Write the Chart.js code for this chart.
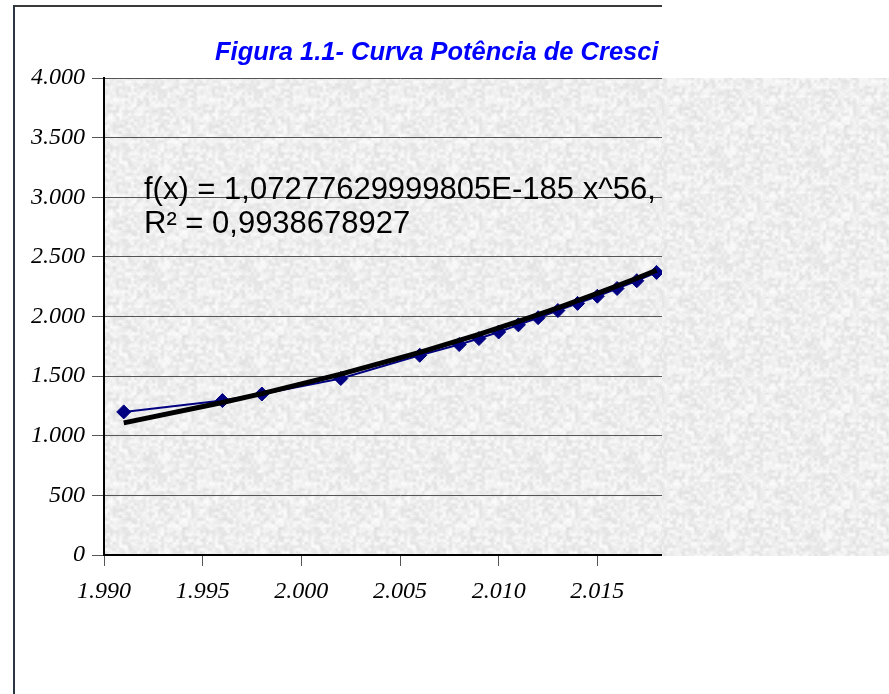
<!DOCTYPE html>
<html>
<head>
<meta charset="utf-8">
<title>Figura 1.1</title>
<script src="https://cdn.jsdelivr.net/npm/chart.js@4.4.1/dist/chart.umd.min.js"></script>
<style>
  html, body { margin: 0; padding: 0; background: #fff; }
  body { width: 889px; height: 694px; position: relative; overflow: hidden; }
  #quadro { position: absolute; left: 0; top: 0; width: 662px; height: 694px; overflow: hidden; }
  #borda { position: absolute; left: 13px; top: 5px; width: 760px; height: 760px;
           border-left: 2px solid #2b3441; border-top: 2px solid #3a3a3a; }
  #lateral { position: absolute; left: 662px; top: 78px; width: 227px; height: 478px; background: #ebebeb; }
  #grafico { position: absolute; left: 0; top: 0; }
</style>
</head>
<body>
<div id="quadro">
  <div id="borda"></div>
  <canvas id="grafico" width="720" height="694"></canvas>
</div>
<div id="lateral"></div>
<script>
// Dados
const anos = [1991, 1996, 1998, 2002, 2006, 2008, 2009, 2010, 2011, 2012, 2013, 2014, 2015, 2016, 2017, 2018];
const demanda = [1200, 1295, 1350, 1480, 1675, 1765, 1815, 1870, 1930, 1990, 2050, 2110, 2170, 2235, 2300, 2370];
const eixoX = [1990, 1995, 2000, 2005, 2010, 2015, 2020];
const eixoY = [0, 500, 1000, 1500, 2000, 2500, 3000, 3500, 4000];

// Coeficientes da tendência potência (a lido da equação, b estimado pela curva)
const coefA = 1.07277629999805e-185;
const coefB = 56.99;

const titulo = 'Figura 1.1- Curva Potência de Cresci';
const equacao = 'f(x) = 1,07277629999805E-185 x^56,';
const rQuadrado = 'R² = 0,9938678927';

// Separador de milhar com ponto
function milhar(v) {
  return String(v).replace(/\B(?=(\d{3})+(?!\d))/g, '.');
}

function tendencia(x) {
  return Math.exp(Math.log(coefA) + coefB * Math.log(x));
}

// Textura cinza do fundo (ruído determinístico)
function criarTextura() {
  const t = 96, cel = 3, nc = t / cel;
  const c = document.createElement('canvas');
  c.width = c.height = t;
  const g = c.getContext('2d');
  const img = g.createImageData(t, t);
  const h = (x, y) => {
    const n = Math.sin((x % nc) * 127.1 + (y % nc) * 311.7) * 43758.5453;
    return n - Math.floor(n);
  };
  for (let y = 0; y < t; y++) {
    for (let x = 0; x < t; x++) {
      const cx = Math.floor(x / cel), cy = Math.floor(y / cel);
      const fx = (x % cel) / cel, fy = (y % cel) / cel;
      const a = h(cx, cy), b = h(cx + 1, cy), c2 = h(cx, cy + 1), d = h(cx + 1, cy + 1);
      const v = (a * (1 - fx) + b * fx) * (1 - fy) + (c2 * (1 - fx) + d * fx) * fy;
      const fino = h(x * 7 + 3, y * 5 + 1);
      const cinza = Math.round(221 + 28 * v + 6 * fino);
      const k = (y * t + x) * 4;
      img.data[k] = img.data[k + 1] = img.data[k + 2] = Math.min(cinza, 253);
      img.data[k + 3] = 255;
    }
  }
  g.putImageData(img, 0, 0);
  return c;
}
const textura = criarTextura();
document.getElementById('lateral').style.background = 'url(' + textura.toDataURL() + ')';

const fundoPlugin = {
  id: 'fundo',
  beforeDraw(chart) {
    const { ctx, chartArea: a } = chart;
    ctx.save();
    ctx.fillStyle = ctx.createPattern(textura, 'repeat');
    ctx.fillRect(a.left, a.top, a.right - a.left, a.bottom - a.top);
    ctx.restore();
  }
};

const textosPlugin = {
  id: 'textos',
  afterDatasetsDraw(chart) {
    const ctx = chart.ctx;
    ctx.save();
    ctx.textBaseline = 'alphabetic';
    ctx.textAlign = 'left';
    ctx.fillStyle = '#0000ff';
    ctx.font = 'italic bold 25.5px "Liberation Sans", Arial, sans-serif';
    ctx.fillText(titulo, 215, 60);
    ctx.fillStyle = '#000';
    ctx.font = '31px "Liberation Sans", Arial, sans-serif';
    ctx.fillText(equacao, 144, 199);
    ctx.fillText(rQuadrado, 144, 233);
    ctx.restore();
  }
};

const fonteEixo = { family: '"Liberation Serif", "Times New Roman", serif', style: 'italic', size: 24 };

new Chart(document.getElementById('grafico'), {
  type: 'scatter',
  data: {
    datasets: [{
      label: 'Tendência',
      data: anos.map(x => ({ x: x, y: tendencia(x) })),
      showLine: true,
      borderColor: '#000',
      borderWidth: 5,
      pointRadius: 0,
      order: 0
    }, {
      label: 'Demanda',
      data: anos.map((x, i) => ({ x: x, y: demanda[i] })),
      showLine: true,
      borderColor: '#000080',
      backgroundColor: '#000080',
      borderWidth: 2,
      pointStyle: 'rectRot',
      pointRadius: 7,
      pointBorderWidth: 1,
      order: 1
    }]
  },
  options: {
    responsive: false,
    animation: false,
    layout: { padding: { top: 78, right: 24, left: 0, bottom: 0 } },
    plugins: {
      legend: { display: false },
      tooltip: { enabled: false }
    },
    scales: {
      x: {
        type: 'linear',
        min: eixoX[0],
        max: eixoX[eixoX.length - 1],
        afterBuildTicks: s => { s.ticks = eixoX.map(v => ({ value: v })); },
        afterFit: s => { s.height = 139; s.paddingLeft = 0; s.paddingRight = 0; },
        grid: { drawOnChartArea: false, tickLength: 11, color: '#555', lineWidth: 1 },
        border: { color: '#000', width: 2 },
        ticks: { color: '#000', font: fonteEixo, padding: 11, maxRotation: 0, autoSkip: false, callback: v => milhar(v) }
      },
      y: {
        min: eixoY[0],
        max: eixoY[eixoY.length - 1],
        afterBuildTicks: s => { s.ticks = eixoY.map(v => ({ value: v })); },
        afterFit: s => { s.width = 104; s.paddingTop = 0; s.paddingBottom = 0; },
        grid: { tickLength: 12, color: '#555', lineWidth: 1 },
        border: { color: '#000', width: 2 },
        ticks: { color: '#000', font: fonteEixo, padding: 7, autoSkip: false, callback: v => milhar(v) }
      }
    }
  },
  plugins: [fundoPlugin, textosPlugin]
});
</script>
</body>
</html>
